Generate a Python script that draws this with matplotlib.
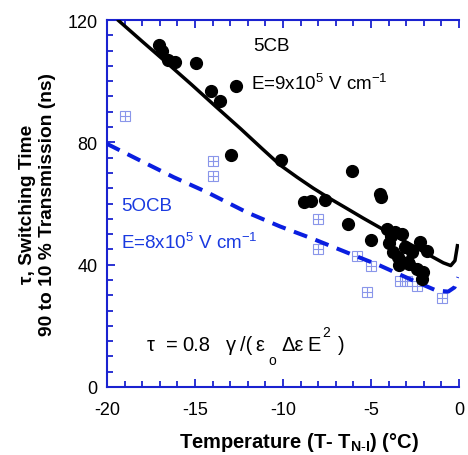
import matplotlib
matplotlib.use("Agg")
import matplotlib.pyplot as plt
from matplotlib.ticker import MultipleLocator

plt.rcParams['font.family'] = ['Liberation Sans', 'DejaVu Sans']
plt.rcParams['mathtext.fontset'] = 'custom'
plt.rcParams['mathtext.rm'] = 'Liberation Sans'
plt.rcParams['mathtext.it'] = 'Liberation Sans'
plt.rcParams['mathtext.bf'] = 'Liberation Sans:bold'
plt.rcParams['axes.unicode_minus'] = False

# 5CB measured switching times
cb_t = [-17.06, -16.9, -16.53, -16.15, -14.96, -14.07, -13.58, -12.69, -12.97, -10.11,
        -6.10, -4.49, -4.42, -8.81, -8.43, -7.6, -6.33, -5.0,
        -4.09, -3.88, -3.64, -3.26, -3.99, -3.73, -3.44, -2.88, -3.07, -2.69,
        -2.22, -1.84, -2.40, -2.03, -2.12, -3.39, -2.82]
cb_tau = [111.8, 109.8, 107.0, 106.2, 106.0, 96.9, 93.5, 98.3, 76.0, 74.1,
          70.6, 63.1, 62.1, 60.4, 60.8, 61.3, 53.4, 48.1,
          51.7, 49.3, 50.6, 50.0, 47.0, 44.0, 42.4, 40.8, 45.7, 44.0,
          47.3, 44.6, 38.6, 37.5, 35.3, 39.9, 40.2]

# 5OCB measured switching times
ocb_t = [-18.96, -14.0, -14.0, -7.99, -7.99, -5.81, -5.02, -5.25, -3.35, -2.97, -2.40, -0.98]
ocb_tau = [88.7, 73.8, 69.1, 54.9, 45.1, 42.9, 39.7, 31.0, 34.8, 34.8, 33.1, 29.1]

# Model curves
fit_cb_t = [-19.34, -18.0, -16.6, -15.2, -13.8, -12.4, -11.2, -10.17, -9.2, -8.28,
            -7.33, -6.38, -5.44, -4.49, -3.54, -2.6, -1.65, -0.89, -0.47, -0.23, -0.09]
fit_cb_tau = [119.8, 113.0, 106.0, 98.9, 91.6, 84.4, 78.0, 72.6, 68.6, 65.0,
              61.6, 58.4, 55.2, 52.1, 49.1, 46.1, 43.0, 40.6, 39.7, 41.3, 46.2]

fit_ocb_t = [-20.0, -18.1, -16.21, -14.32, -12.05, -10.17, -8.28, -6.38, -4.49, -2.60,
             -1.27, -0.61, -0.25, -0.04]
fit_ocb_tau = [79.5, 74.0, 68.6, 63.7, 57.1, 52.5, 48.4, 44.0, 39.7, 34.8,
               31.5, 31.2, 32.6, 35.9]

blue = '#1a22d0'
sq_color = '#8a96ea'
txt_blue = '#1a3ae0'

W, H = 468, 456
fig = plt.figure(figsize=(W / 100, H / 100), dpi=100)
ax = fig.add_axes([107 / W, 1 - 388 / H, (459 - 107) / W, (388 - 21) / H])

ax.plot(fit_cb_t, fit_cb_tau, color='black', lw=2.5, zorder=3)
ax.plot(fit_ocb_t, fit_ocb_tau, color='#0a1ee0', lw=2.9, dashes=(3.5, 2.2), zorder=3)
ax.plot(cb_t, cb_tau, 'o', color='black', ms=8.5, zorder=4)
ax.plot(ocb_t, ocb_tau, 's', mfc='none', mec=sq_color, mew=0.8, ms=7, zorder=2, ls='none')
ax.plot(ocb_t, ocb_tau, '+', color=sq_color, mew=0.8, ms=7, zorder=2, ls='none')

ax.set_xlim(-20, 0)
ax.set_ylim(0, 120)
ax.xaxis.set_major_locator(MultipleLocator(5))
ax.xaxis.set_minor_locator(MultipleLocator(1))
ax.yaxis.set_major_locator(MultipleLocator(40))
ax.yaxis.set_minor_locator(MultipleLocator(5))

for s in ['left', 'bottom', 'top']:
    ax.spines[s].set_color(blue)
    ax.spines[s].set_linewidth(1.5)
ax.spines['right'].set_visible(False)
ax.tick_params(which='both', direction='in', color=blue, width=1.3,
               top=True, right=False, labelsize=13)
ax.tick_params(axis='x', which='both', pad=10)
ax.tick_params(axis='y', which='both', pad=7)
ax.tick_params(which='major', length=6)
ax.tick_params(which='minor', length=4)

ax.set_xlabel(r"Temperature (T- T$_{\mathbf{N\text{-}I}}$) (°C)", fontsize=14.5,
              fontweight='bold')
ax.xaxis.set_label_coords(0.545, -0.118)
ax.set_ylabel("τ, Switching Time\n90 to 10 % Transmission (ns)", fontsize=13.8,
              fontweight='bold', labelpad=8, linespacing=1.25)

ax.text(-11.7, 111.5, "5CB", fontsize=13.5, va='center', ha='left')
ax.text(-11.8, 99.5, r"E=9x10$^5$ V cm$^{-1}$", fontsize=13.5, va='center', ha='left')
ax.text(-19.2, 59.5, "5OCB", fontsize=13.5, va='center', ha='left', color=txt_blue)
ax.text(-19.2, 47.5, r"E=8x10$^5$ V cm$^{-1}$", fontsize=13.5, va='center', ha='left', color=txt_blue)

# Equation, placed piece by piece (pixel positions: left x, baseline y)
def ftext(s, px, py, size=14.5):
    fig.text(px / W, 1 - py / H, s, fontsize=size, ha='left', va='baseline')

ftext("τ", 147, 351)
ftext("=", 166, 351)
ftext("0.8", 182, 351)
ftext("γ", 226, 351)
ftext("/(", 240, 351)
ftext("ε", 255, 351)
ftext("o", 268, 365, size=10)
ftext("Δε", 281, 351)
ftext("E", 307, 351)
ftext("2", 322, 337, size=10)
ftext(")", 338, 351)

fig.savefig("out.png", dpi=100)
